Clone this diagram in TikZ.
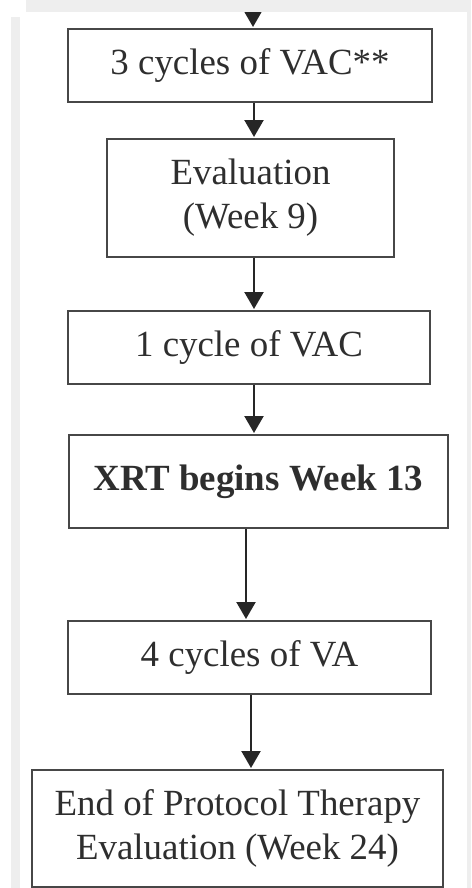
\documentclass[tikz,border=0pt]{standalone}
\usepackage{fontspec}
\setmainfont{Liberation Serif}
\usetikzlibrary{arrows.meta}

\definecolor{boxgray}{HTML}{474747}
\definecolor{flowgray}{HTML}{262626}
\definecolor{textgray}{HTML}{2E2E2E}
\definecolor{edgegray}{HTML}{EEEEEE}

\tikzset{
    stagebox/.style={draw=boxgray, line width=0.04cm, text=textgray, align=center,
        inner sep=0pt, font=\fontsize{21}{25}\selectfont},
    flow/.style={draw=flowgray, line width=0.045cm,
        -{Triangle[width=0.38cm, length=0.34cm]}, shorten >=0.02cm}
}

\begin{document}
\begin{tikzpicture}[x=0.02cm, y=-0.02cm]
    \useasboundingbox (0,0) rectangle (471,888);

    % screenshot edges
    \fill[edgegray] (11,17) rectangle (20,888);
    \fill[edgegray] (467,12) rectangle (471,888);

    \node[stagebox, minimum width=364*0.02cm, minimum height=73*0.02cm] (vac3) at (250,65.5) {3 cycles of VAC**};
    \node[stagebox, minimum width=287*0.02cm, minimum height=118*0.02cm] (eval9) at (250.5,198) {Evaluation\\(Week 9)};
    \node[stagebox, minimum width=362*0.02cm, minimum height=73*0.02cm] (vac1) at (249,347.5) {1 cycle of VAC};
    \node[stagebox, minimum width=379*0.02cm, minimum height=93*0.02cm] (xrt) at (258.5,481.5) {\textbf{XRT begins Week 13}};
    \node[stagebox, minimum width=363*0.02cm, minimum height=73*0.02cm] (va4) at (249.5,657.5) {4 cycles of VA};
    \node[stagebox, minimum width=411*0.02cm, minimum height=117*0.02cm] (endtx) at (237.5,828.5) {End of Protocol Therapy\\Evaluation (Week 24)};

    \coordinate (incoming) at (253,4);

    \draw[flow] (incoming) -- (incoming |- vac3.north);
    \draw[flow] (vac3.south -| 254,0) -- (eval9.north -| 254,0);
    \draw[flow] (eval9.south -| 254,0) -- (vac1.north -| 254,0);
    \draw[flow] (vac1.south -| 254,0) -- (xrt.north -| 254,0);
    \draw[flow] (xrt.south -| 246,0) -- (va4.north -| 246,0);
    \draw[flow] (va4.south -| 251,0) -- (endtx.north -| 251,0);

    % top band of the screenshot
    \fill[edgegray] (26,0) rectangle (471,12);
\end{tikzpicture}
\end{document}
